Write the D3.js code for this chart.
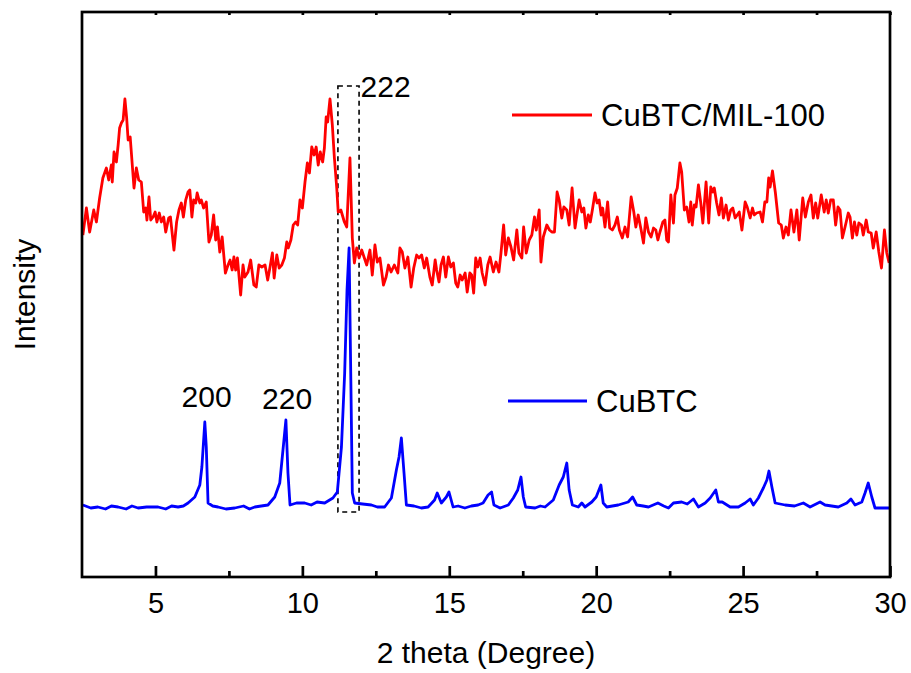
<!DOCTYPE html>
<html>
<head>
<meta charset="utf-8">
<script src="https://cdn.jsdelivr.net/npm/d3@7"></script>
<style>
  body { margin: 0; background: #fff; }
  text { font-family: "Liberation Sans", Arial, sans-serif; fill: #000; }
</style>
</head>
<body>
<div id="chart"></div>
<script>
// 2 theta (deg), intensity (a.u.)
const mil100 = [
  [2.53,342],[2.65,369],[2.76,345],[2.90,367],[2.99,355],[3.10,379],[3.21,399],[3.33,409],[3.41,397],[3.50,412],
  [3.53,395],[3.59,425],[3.67,415],[3.73,432],[3.78,449],[3.84,454],[3.90,457],[3.96,478],[4.02,459],[4.07,437],
  [4.14,440],[4.27,389],[4.35,409],[4.43,397],[4.52,395],[4.60,365],[4.67,369],[4.71,357],[4.78,380],[4.84,357],
  [4.92,360],[4.99,365],[5.05,355],[5.13,364],[5.20,355],[5.28,360],[5.35,345],[5.45,359],[5.51,360],[5.63,327],
  [5.72,355],[5.80,367],[5.88,374],[5.95,360],[6.03,377],[6.11,385],[6.17,387],[6.24,360],[6.30,377],[6.37,374],
  [6.42,384],[6.51,374],[6.56,377],[6.64,369],[6.73,375],[6.82,335],[6.90,342],[6.98,362],[7.05,337],[7.11,350],
  [7.19,325],[7.27,340],[7.38,304],[7.47,312],[7.54,317],[7.61,307],[7.67,320],[7.73,307],[7.79,319],[7.90,282],
  [7.98,312],[8.04,300],[8.15,305],[8.24,317],[8.35,292],[8.43,290],[8.52,312],[8.62,310],[8.73,312],[8.82,297],
  [8.90,310],[8.98,324],[9.04,299],[9.13,322],[9.21,309],[9.30,312],[9.39,319],[9.47,335],[9.52,329],[9.61,337],
  [9.69,352],[9.77,355],[9.84,352],[9.92,377],[10.00,369],[10.09,395],[10.17,414],[10.24,404],[10.32,430],[10.40,422],
  [10.47,430],[10.54,412],[10.61,425],[10.69,415],[10.75,429],[10.81,460],[10.86,455],[10.94,478],[11.02,452],[11.09,419],
  [11.17,389],[11.22,365],[11.31,367],[11.36,362],[11.43,355],[11.51,350],[11.62,419],[11.70,339],[11.77,314],[11.85,329],
  [11.93,319],[12.02,327],[12.11,319],[12.19,312],[12.30,327],[12.38,302],[12.47,332],[12.55,315],[12.64,319],[12.76,292],
  [12.85,300],[12.93,312],[13.02,305],[13.13,312],[13.25,304],[13.32,329],[13.40,325],[13.49,309],[13.59,320],[13.70,290],
  [13.79,309],[13.89,322],[13.97,319],[14.06,322],[14.15,309],[14.23,319],[14.34,300],[14.42,292],[14.52,317],[14.57,307],
  [14.65,295],[14.72,312],[14.80,320],[14.88,300],[14.97,320],[15.05,310],[15.14,314],[15.22,294],[15.29,290],[15.37,302],
  [15.44,297],[15.54,304],[15.61,285],[15.70,304],[15.76,302],[15.83,284],[15.90,319],[15.97,310],[16.05,319],[16.12,304],
  [16.22,292],[16.31,312],[16.39,320],[16.50,305],[16.59,315],[16.69,305],[16.76,324],[16.85,352],[16.92,322],[17.01,339],
  [17.10,330],[17.19,317],[17.30,347],[17.37,324],[17.47,319],[17.53,350],[17.62,324],[17.72,337],[17.81,342],[17.90,360],
  [17.96,347],[18.06,367],[18.12,315],[18.20,340],[18.32,352],[18.41,347],[18.49,345],[18.58,345],[18.67,385],[18.74,377],
  [18.83,359],[18.90,370],[19.00,367],[19.08,352],[19.18,389],[19.28,349],[19.42,377],[19.51,365],[19.58,369],[19.65,349],
  [19.73,362],[19.80,355],[19.87,367],[19.96,384],[20.03,374],[20.10,377],[20.17,362],[20.22,369],[20.30,350],[20.39,375],
  [20.46,349],[20.55,347],[20.64,352],[20.72,360],[20.79,347],[20.89,339],[20.98,350],[21.07,340],[21.19,380],[21.28,365],
  [21.35,350],[21.43,362],[21.53,347],[21.61,334],[21.69,359],[21.78,345],[21.87,340],[21.95,349],[22.03,347],[22.10,337],
  [22.17,345],[22.27,355],[22.34,357],[22.40,337],[22.46,335],[22.54,382],[22.63,354],[22.68,382],[22.76,389],[22.85,414],
  [22.91,405],[23.00,367],[23.08,370],[23.16,355],[23.22,375],[23.27,352],[23.34,372],[23.40,370],[23.48,392],[23.56,374],
  [23.63,354],[23.74,395],[23.83,354],[23.90,390],[23.97,385],[24.02,389],[24.10,374],[24.18,362],[24.26,379],[24.33,359],
  [24.42,372],[24.50,357],[24.58,367],[24.65,369],[24.73,359],[24.80,362],[24.87,365],[24.96,347],[25.07,375],[25.14,370],
  [25.24,359],[25.32,369],[25.38,362],[25.46,364],[25.58,365],[25.66,355],[25.74,375],[25.81,375],[25.87,399],[25.92,390],
  [26.00,406],[26.10,384],[26.21,354],[26.30,352],[26.37,339],[26.46,350],[26.54,342],[26.63,367],[26.73,345],[26.83,367],
  [26.91,337],[27.03,379],[27.12,360],[27.22,375],[27.31,382],[27.39,359],[27.47,374],[27.54,359],[27.66,382],[27.76,365],
  [27.83,377],[27.90,364],[27.98,377],[28.07,377],[28.15,352],[28.23,370],[28.30,367],[28.38,339],[28.47,350],[28.58,364],
  [28.64,360],[28.72,339],[28.79,355],[28.87,342],[28.94,354],[29.03,352],[29.09,342],[29.19,357],[29.26,345],[29.36,344],
  [29.43,329],[29.53,345],[29.62,325],[29.71,309],[29.81,347],[29.89,324],[29.97,314]
];

const cubtc = [
  [2.53,72],[2.80,69],[3.04,70],[3.30,68],[3.50,71],[3.73,70],[4.00,68],[4.20,71],[4.41,69],[4.70,70],
  [5.09,70],[5.35,68],[5.55,71],[5.77,70],[5.95,71],[6.11,74],[6.34,80],[6.51,92],[6.58,110],[6.68,155],
  [6.73,130],[6.79,74],[6.95,71],[7.13,70],[7.40,68],[7.70,69],[8.00,71],[8.20,68],[8.38,70],[8.60,71],
  [8.83,72],[9.06,80],[9.23,94],[9.34,127],[9.44,157],[9.51,104],[9.58,72],[9.80,74],[10.08,74],[10.30,72],
  [10.50,75],[10.76,74],[11.04,79],[11.19,85],[11.33,130],[11.44,204],[11.52,287],[11.59,329],[11.65,197],[11.70,84],
  [11.78,74],[12.05,73],[12.35,72],[12.55,70],[12.80,70],[13.03,79],[13.20,107],[13.29,120],[13.37,139],[13.46,104],
  [13.54,72],[13.80,71],[14.05,69],[14.28,70],[14.50,77],[14.59,84],[14.73,74],[14.90,80],[14.99,85],[15.13,70],
  [15.30,71],[15.53,69],[15.75,71],[15.98,72],[16.15,74],[16.32,82],[16.44,85],[16.52,72],[16.73,69],[17.01,72],
  [17.18,79],[17.33,87],[17.44,100],[17.52,80],[17.60,70],[17.92,69],[18.10,71],[18.26,70],[18.54,77],[18.74,92],
  [18.88,100],[19.00,114],[19.08,87],[19.19,72],[19.39,70],[19.51,74],[19.62,70],[19.85,75],[20.00,80],[20.16,92],
  [20.24,74],[20.36,70],[20.55,71],[20.75,72],[21.09,75],[21.24,80],[21.38,72],[21.60,71],[21.78,70],[22.10,74],
  [22.30,71],[22.46,69],[22.63,74],[22.91,75],[23.10,73],[23.31,78],[23.48,70],[23.71,74],[23.88,79],[24.07,87],
  [24.16,75],[24.29,75],[24.56,70],[24.84,70],[25.07,74],[25.24,78],[25.35,72],[25.52,79],[25.69,89],[25.81,97],
  [25.88,106],[25.98,90],[26.09,74],[26.43,72],[26.75,71],[27.05,74],[27.28,70],[27.62,75],[27.79,72],[28.24,70],
  [28.53,74],[28.67,78],[28.81,72],[29.04,75],[29.15,84],[29.26,94],[29.38,80],[29.49,69],[29.72,69],[30.00,69]
];

const majorTicks = [5, 10, 15, 20, 25, 30];
const minorTicks = [7.5, 12.5, 17.5, 22.5, 27.5];

const legendItems = [
  { name: "CuBTC/MIL-100", color: "#ff0000", x1: 512, x2: 592, y: 115 },
  { name: "CuBTC", color: "#0000ff", x1: 508, x2: 587, y: 401 }
];

// hkl labels: 2 theta / intensity of label anchor
const peakLabels = [
  { text: "200", theta: 6.74, inten: 170, anchor: "middle" },
  { text: "220", theta: 9.48, inten: 168, anchor: "middle" },
  { text: "222", theta: 11.98, inten: 480, anchor: "start" }
];
const boxTheta = [11.21, 11.93];
const boxInten = [65, 491];

const margin = { top: 12, right: 21, bottom: 96, left: 82 },
  width = 911 - margin.left - margin.right,
  height = 673 - margin.top - margin.bottom;

const svg = d3.select('#chart').append('svg')
  .attr('width', 911)
  .attr('height', 673)
  .append('g')
  .attr('transform', `translate(${margin.left},${margin.top})`);

const xScale = d3.scaleLinear().domain([2.5, 30]).range([0, width]);
const yScale = d3.scaleLinear().domain([0, 565]).range([height, 0]);

svg.append('clipPath').attr('id', 'clip')
  .append('rect').attr('width', width).attr('height', height);

const line = d3.line()
  .x(d => xScale(d[0]))
  .y(d => yScale(d[1]));

// dashed box round the 222 peak
svg.append('rect')
  .attr('x', xScale(boxTheta[0]))
  .attr('y', yScale(boxInten[1]))
  .attr('width', xScale(boxTheta[1]) - xScale(boxTheta[0]))
  .attr('height', yScale(boxInten[0]) - yScale(boxInten[1]))
  .attr('fill', 'none')
  .attr('stroke', '#000')
  .attr('stroke-width', 1.6)
  .attr('stroke-dasharray', '5,4');

svg.append('path')
  .attr('d', line(cubtc))
  .attr('clip-path', 'url(#clip)')
  .attr('fill', 'none')
  .attr('stroke', '#0000ff')
  .attr('stroke-width', 2.8)
  .attr('stroke-linejoin', 'round');

svg.append('path')
  .attr('d', line(mil100))
  .attr('clip-path', 'url(#clip)')
  .attr('fill', 'none')
  .attr('stroke', '#ff0000')
  .attr('stroke-width', 2.8)
  .attr('stroke-linejoin', 'round');

// axes, ticks pointing inward
const xAxis = svg.append('g')
  .attr('transform', `translate(0,${height})`)
  .call(d3.axisBottom(xScale).tickValues(majorTicks).tickSize(-11).tickPadding(15).tickFormat(d3.format('d')));
xAxis.selectAll('text').style('font-size', '29px');

svg.append('g')
  .attr('transform', `translate(0,${height})`)
  .call(d3.axisBottom(xScale).tickValues(minorTicks).tickSize(-6).tickFormat(''));

svg.append('g')
  .call(d3.axisTop(xScale).tickValues(majorTicks.concat(minorTicks)).tickSize(-3).tickFormat(''));

svg.selectAll('.domain').remove();
svg.selectAll('.tick line').attr('stroke', '#000').attr('stroke-width', 2.7);

svg.append('rect')
  .attr('width', width)
  .attr('height', height)
  .attr('fill', 'none')
  .attr('stroke', '#000')
  .attr('stroke-width', 2.7);

// axis titles
svg.append('text')
  .attr('x', width / 2)
  .attr('y', height + 86)
  .attr('text-anchor', 'middle')
  .style('font-size', '30px')
  .text('2 theta (Degree)');

svg.append('text')
  .attr('transform', `translate(${35 - margin.left},${height / 2}) rotate(-90)`)
  .attr('text-anchor', 'middle')
  .style('font-size', '30px')
  .text('Intensity');

// peak labels
svg.selectAll('.peak')
  .data(peakLabels)
  .join('text')
  .attr('class', 'peak')
  .attr('x', d => xScale(d.theta))
  .attr('y', d => yScale(d.inten))
  .attr('text-anchor', d => d.anchor)
  .style('font-size', '30px')
  .text(d => d.text);

// legend
const legend = svg.append('g').attr('transform', `translate(${-margin.left},${-margin.top})`);
legend.selectAll('line')
  .data(legendItems)
  .join('line')
  .attr('x1', d => d.x1).attr('x2', d => d.x2)
  .attr('y1', d => d.y).attr('y2', d => d.y)
  .attr('stroke', d => d.color)
  .attr('stroke-width', 2.8);
legend.selectAll('text')
  .data(legendItems)
  .join('text')
  .attr('x', d => d.x2 + 9)
  .attr('y', d => d.y + 11)
  .style('font-size', '31px')
  .text(d => d.name);
</script>
</body>
</html>
